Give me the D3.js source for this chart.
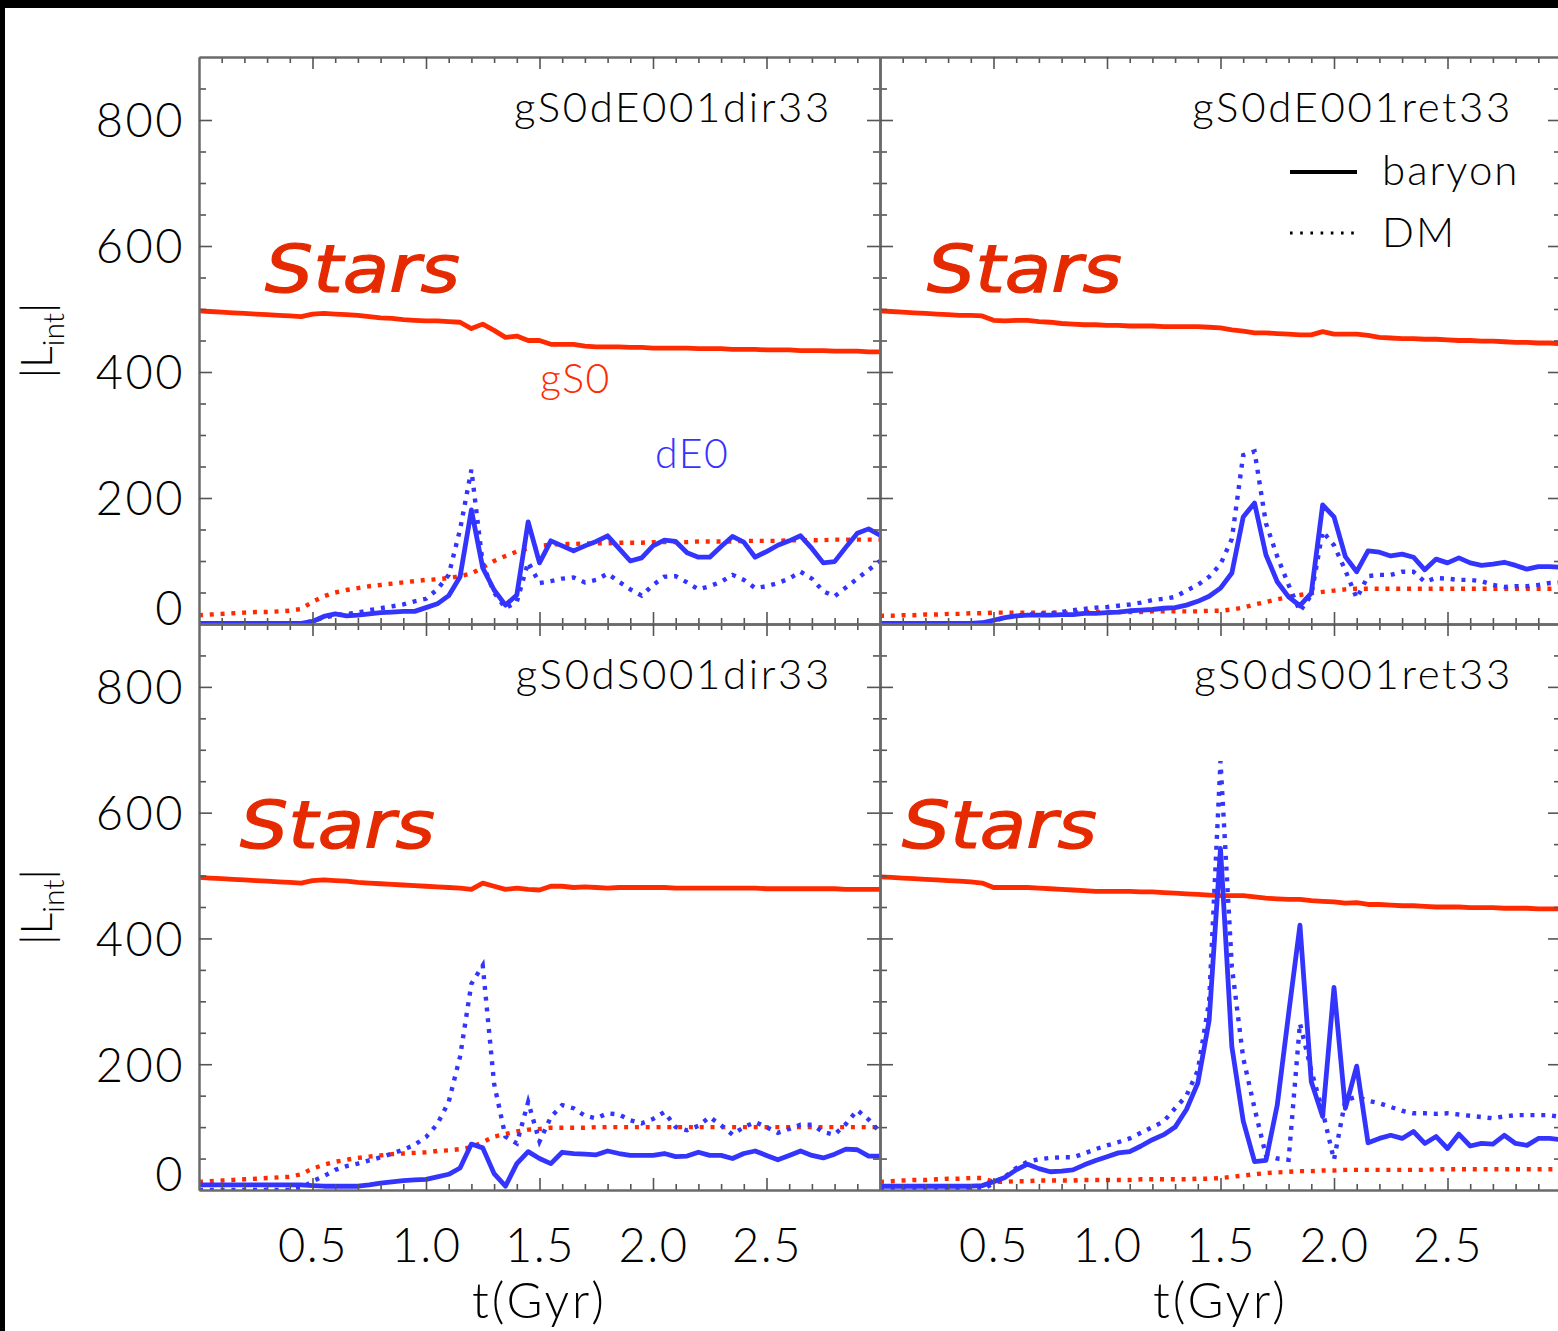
<!DOCTYPE html>
<html lang="en">
<head>
<meta charset="utf-8">
<title>|L_int| of the gS0 and dwarf in four encounters</title>
<script src="https://cdn.jsdelivr.net/npm/d3@7"></script>
<style>
  body { margin: 0; background: #fff; }
  svg { display: block; }
  .txt { font-family: Lato, "DejaVu Sans", sans-serif; font-weight: 300; fill: #000; }
</style>
</head>
<body>
<script>
// time grid (Gyr), one snapshot every 0.05 Gyr
var tGyr = [0.00,0.05,0.10,0.15,0.20,0.25,0.30,0.35,0.40,0.45,
            0.50,0.55,0.60,0.65,0.70,0.75,0.80,0.85,0.90,0.95,
            1.00,1.05,1.10,1.15,1.20,1.25,1.30,1.35,1.40,1.45,
            1.50,1.55,1.60,1.65,1.70,1.75,1.80,1.85,1.90,1.95,
            2.00,2.05,2.10,2.15,2.20,2.25,2.30,2.35,2.40,2.45,
            2.50,2.55,2.60,2.65,2.70,2.75,2.80,2.85,2.90,2.95,3.00];

var runNames = ["gS0dE001dir33", "gS0dE001ret33", "gS0dS001dir33", "gS0dS001ret33"];
var yTickLabels = [0, 200, 400, 600, 800];
var xTickLabels = [0.5, 1.0, 1.5, 2.0, 2.5];

// gS0dE001dir33
var eDir_gS0_bar = [497,496,495,494,493,492,491,490,489,488, 492,493,492,491,490,488,486,485,483,482,
                    481,481,480,479,469,476,466,455,457,450, 450,444,444,444,441,440,440,440,439,439,
                    438,438,438,438,437,437,437,436,436,436, 435,435,435,434,434,434,433,433,433,432, 432];
var eDir_gS0_dm  = [14,15,16,17,18,19,19,20,21,24, 35,44,50,54,57,60,62,64,66,68,
                    70,71,73,76,80,90,100,108,115,120, 124,126,127,127,128,128,128,129,129,129,
                    130,130,130,130,131,131,131,131,132,132, 132,132,133,133,133,133,134,134,134,134, 134];
var eDir_dw_bar  = [1,1,1,1,1,1,1,1,1,1, 4,12,16,13,14,16,18,19,20,20,
                    26,32,45,75,181,89,54,30,46,162, 97,132,124,116,124,131,140,120,100,105,
                    124,133,131,113,106,106,123,139,130,106, 115,125,132,140,120,97,99,122,144,151, 141];
var eDir_dw_dm   = [0,0,0,0,0,0,0,0,0,0, 5,10,14,16,18,22,25,28,31,36,
                    40,55,78,150,245,95,50,25,35,98, 65,68,72,74,66,70,80,67,55,45,
                    62,75,76,66,55,60,67,78,70,57, 60,65,72,83,72,52,44,58,72,86, 100];

// gS0dE001ret33
var eRet_gS0_bar = [497,496,495,494,493,492,491,490,490,489, 482,481,482,482,480,479,477,476,475,475,
                    474,474,473,473,473,472,472,472,472,471, 470,467,465,462,462,461,460,459,459,464,
                    460,460,460,458,455,454,453,453,452,452, 451,450,450,449,449,448,447,447,446,446, 445];
var eRet_gS0_dm  = [13,13,14,14,15,15,16,16,17,17, 18,18,18,18,18,18,18,18,19,19,
                    19,19,19,19,20,20,20,20,20,21, 21,23,26,31,35,39,43,46,49,51,
                    53,55,56,56,56,56,56,56,56,56, 56,56,56,56,56,56,56,56,56,56, 56];
var eRet_dw_bar  = [1,1,1,1,1,1,1,1,1,2, 6,10,13,14,14,14,15,15,17,17,
                    18,19,21,22,23,25,26,30,36,44, 57,81,170,192,110,67,43,29,49,189,
                    170,107,83,116,114,108,111,106,86,103, 97,105,97,93,95,98,93,87,91,91, 90];
var eRet_dw_dm   = [0,0,0,0,0,0,0,0,0,0, 5,10,13,15,16,17,19,22,24,26,
                    27,29,31,34,38,40,43,53,62,75, 95,135,268,274,160,107,62,20,46,147,
                    125,85,41,76,78,78,83,83,67,73, 72,70,70,68,62,59,60,60,62,65, 66];

// gS0dS001dir33
var sDir_gS0_bar = [497,496,495,494,493,492,491,490,489,488, 492,493,492,491,489,488,487,486,485,484,
                    483,482,481,480,478,488,483,478,480,478, 477,483,483,481,482,481,480,481,481,481,
                    481,481,480,480,480,480,480,480,480,480, 479,479,479,479,479,479,479,478,478,478, 478];
var sDir_gS0_dm  = [13,14,15,16,17,18,19,20,21,25, 34,40,45,48,51,53,55,57,58,59,
                    60,62,63,65,68,76,85,89,93,96, 97,99,99,99,99,100,100,100,100,100,
                    100,100,100,100,100,100,100,100,100,100, 100,100,100,100,100,100,100,100,100,100, 100];
var sDir_dw_bar  = [8,8,8,8,8,8,8,8,8,8, 7,6,6,6,6,8,11,13,15,16,
                    17,21,25,35,73,67,26,6,42,61, 50,42,60,58,57,56,62,58,55,55,
                    55,58,53,54,60,55,55,50,58,62, 55,48,55,62,55,51,57,65,64,54, 54];
var sDir_dw_dm   = [0,0,0,0,0,0,0,0,0,3, 14,22,32,38,42,47,52,58,64,72,
                    84,105,140,212,328,357,169,85,74,140, 77,116,135,130,118,114,122,120,111,106,
                    113,124,100,95,102,116,103,88,100,108, 100,91,97,104,104,92,88,105,127,112, 92];

// gS0dS001ret33
var sRet_gS0_bar = [498,497,496,495,494,493,492,491,490,488, 481,481,481,481,480,479,478,477,476,475,
                    475,475,475,474,474,473,472,471,470,469, 468,468,468,466,464,463,462,462,460,459,
                    458,456,457,454,454,453,452,452,451,450, 450,450,449,449,449,448,448,448,447,447, 447];
var sRet_gS0_dm  = [13,14,15,16,16,17,18,18,19,19, 13,13,14,14,15,15,15,15,16,16,
                    16,16,16,17,17,17,17,17,18,18, 19,21,23,25,27,28,29,30,30,31,
                    31,32,32,32,32,32,32,32,32,33, 33,33,33,33,33,33,33,33,33,33, 33];
var sRet_dw_bar  = [6,6,6,6,6,6,6,6,6,7, 13,20,32,41,34,29,30,32,40,47,
                    53,59,61,70,80,88,100,128,170,270, 543,228,110,45,47,135,280,421,172,117,
                    322,130,197,75,82,87,82,93,74,85, 66,89,70,74,73,87,74,71,82,82, 80];
var sRet_dw_dm   = [0,0,0,0,0,0,0,0,0,0, 11,21,35,45,49,51,52,52,58,65,
                    71,76,82,91,100,109,130,150,190,300, 682,355,210,130,55,50,48,265,190,125,
                    48,143,148,142,138,132,126,122,122,121, 122,120,118,116,114,117,119,119,119,119, 116];

var w = 1558, h = 1331;
var red = "#ff2a00", blue = "#3434ff";

// panel frames
var colX = [[199, 880], [880, 1561]];
var rowY = [[624, 57], [1190, 624]];

var panels = [
  { name: runNames[0], col: 0, row: 0, gBar: eDir_gS0_bar, gDm: eDir_gS0_dm, dBar: eDir_dw_bar, dDm: eDir_dw_dm, starsAt: [66, 235], tags: true },
  { name: runNames[1], col: 1, row: 0, gBar: eRet_gS0_bar, gDm: eRet_gS0_dm, dBar: eRet_dw_bar, dDm: eRet_dw_dm, starsAt: [47, 235], legend: true },
  { name: runNames[2], col: 0, row: 1, gBar: sDir_gS0_bar, gDm: sDir_gS0_dm, dBar: sDir_dw_bar, dDm: sDir_dw_dm, starsAt: [41, 224] },
  { name: runNames[3], col: 1, row: 1, gBar: sRet_gS0_bar, gDm: sRet_gS0_dm, dBar: sRet_dw_bar, dDm: sRet_dw_dm, starsAt: [22, 224] }
];

var svg = d3.select("body").append("svg")
            .attr("width", w)
            .attr("height", h);

svg.append("rect").attr("width", w).attr("height", h).attr("fill", "#fff");

var xMajor = [0.5, 1.0, 1.5, 2.0, 2.5];
var xMinor = d3.range(1, 30).map(function(k) { return k / 10; }).filter(function(v) { return Math.round(v * 10) % 5 !== 0; });
var yMajor = [200, 400, 600, 800];
var yMinor = d3.range(50, 900, 50).filter(function(v) { return v % 200 !== 0; });

var defs = svg.append("defs");

panels.forEach(function(p, pi) {
  var x = d3.scaleLinear().domain([0, 3]).range(colX[p.col]);
  var y = d3.scaleLinear().domain([0, 900]).range(rowY[p.row]);
  var x0 = colX[p.col][0], x1 = colX[p.col][1];
  var yb = rowY[p.row][0], yt = rowY[p.row][1];

  defs.append("clipPath").attr("id", "clip" + pi)
      .append("rect").attr("x", x0).attr("y", yt - 2).attr("width", x1 - x0).attr("height", yb - yt + 2);

  var g = svg.append("g");
  var plot = g.append("g").attr("clip-path", "url(#clip" + pi + ")");

  var line = d3.line()
      .x(function(d, i) { return x(tGyr[i]); })
      .y(function(d) { return y(d); });

  // DM first (dotted), then baryons (solid)
  plot.append("path").datum(p.gDm).attr("d", line)
      .attr("fill", "none").attr("stroke", red).attr("stroke-width", 4.4).attr("stroke-dasharray", "4,6.8");
  plot.append("path").datum(p.dDm).attr("d", line)
      .attr("fill", "none").attr("stroke", blue).attr("stroke-width", 4.4).attr("stroke-dasharray", "4,6.8");
  plot.append("path").datum(p.gBar).attr("d", line)
      .attr("fill", "none").attr("stroke", red).attr("stroke-width", 4.8).attr("stroke-linejoin", "round");
  plot.append("path").datum(p.dBar).attr("d", line)
      .attr("fill", "none").attr("stroke", blue).attr("stroke-width", 4.8).attr("stroke-linejoin", "round");

  // inward ticks on all four sides
  function tickAxis(gen, vals, size, tr) {
    var a = g.append("g").attr("transform", tr)
        .call(gen.tickValues(vals).tickSize(size).tickSizeOuter(0).tickFormat(""));
    a.select(".domain").attr("stroke", "#6a6a6a").attr("stroke-width", 2);
    a.selectAll(".tick line").attr("stroke", "#555").attr("stroke-width", 1.6);
    return a;
  }
  tickAxis(d3.axisBottom(x), xMinor, -6, "translate(0," + yb + ")");
  tickAxis(d3.axisBottom(x), xMajor, -12, "translate(0," + yb + ")");
  tickAxis(d3.axisTop(x), xMinor, -6, "translate(0," + yt + ")");
  tickAxis(d3.axisTop(x), xMajor, -12, "translate(0," + yt + ")");
  tickAxis(d3.axisLeft(y), yMinor, -7, "translate(" + x0 + ",0)");
  tickAxis(d3.axisLeft(y), yMajor, -13, "translate(" + x0 + ",0)");
  tickAxis(d3.axisRight(y), yMinor, -7, "translate(" + x1 + ",0)");
  tickAxis(d3.axisRight(y), yMajor, -13, "translate(" + x1 + ",0)");

  // y labels on left column
  if (p.col === 0) {
    var ya = g.append("g").attr("transform", "translate(" + x0 + ",0)")
        .call(d3.axisLeft(y).tickValues(yTickLabels).tickSize(0).tickPadding(14).tickFormat(d3.format("d")));
    ya.select(".domain").remove();
    ya.selectAll("text").attr("class", "txt").attr("font-size", 47).attr("letter-spacing", 2.5).attr("dy", "0.36em")
      .attr("transform", function(d) { return d === 0 ? "translate(0,-16)" : null; });

    var yc = (yb + yt) / 2;
    var yl = g.append("text").attr("class", "txt").attr("font-size", 43)
        .attr("text-anchor", "middle")
        .attr("transform", "translate(52," + yc + ") rotate(-90)");
    yl.append("tspan").text("|L");
    yl.append("tspan").attr("font-size", 30).attr("dy", 12).text("int");
    yl.append("tspan").attr("dy", -12).text("|");
  }

  // x labels on bottom row
  if (p.row === 1) {
    var xa = g.append("g").attr("transform", "translate(0," + yb + ")")
        .call(d3.axisBottom(x).tickValues(xTickLabels).tickSize(0).tickPadding(39).tickFormat(d3.format(".1f")));
    xa.select(".domain").remove();
    xa.selectAll("text").attr("class", "txt").attr("font-size", 47).attr("letter-spacing", 1.5);
    g.append("text").attr("class", "txt").attr("font-size", 49)
        .attr("text-anchor", "middle").attr("letter-spacing", 3)
        .attr("x", (x0 + x1) / 2).attr("y", yb + 128)
        .text("t(Gyr)");
  }

  // run name
  g.append("text").attr("class", "txt").attr("font-size", 42)
      .attr("letter-spacing", 2.6)
      .attr("text-anchor", "end")
      .attr("x", x1 - 48).attr("y", yt + 65)
      .text(p.name);

  // "Stars"
  g.append("text")
      .attr("x", x0 + p.starsAt[0]).attr("y", yt + p.starsAt[1])
      .attr("font-family", "'Comic Sans MS', 'DejaVu Sans', sans-serif")
      .attr("font-style", "italic").attr("font-weight", 400)
      .attr("font-size", 66).attr("fill", "#e62a00")
      .attr("stroke", "#e62a00").attr("stroke-width", 1.2)
      .attr("textLength", 195).attr("lengthAdjust", "spacingAndGlyphs")
      .text("Stars");

  if (p.tags) {
    g.append("text").attr("class", "txt").attr("font-size", 41).attr("letter-spacing", 1.5).style("fill", red)
        .attr("x", x0 + 341).attr("y", yt + 336).text("gS0");
    g.append("text").attr("class", "txt").attr("font-size", 41).attr("letter-spacing", 1.5).style("fill", blue)
        .attr("x", x0 + 456).attr("y", yt + 411).text("dE0");
  }

  if (p.legend) {
    g.append("line").attr("x1", 1290).attr("x2", 1357).attr("y1", 172).attr("y2", 172)
        .attr("stroke", "#000").attr("stroke-width", 4);
    g.append("line").attr("x1", 1290).attr("x2", 1357).attr("y1", 233).attr("y2", 233)
        .attr("stroke", "#000").attr("stroke-width", 3).attr("stroke-dasharray", "2.6,7.6");
    g.append("text").attr("class", "txt").attr("font-size", 42).attr("letter-spacing", 2)
        .attr("x", 1382).attr("y", 185).text("baryon");
    g.append("text").attr("class", "txt").attr("font-size", 42).attr("letter-spacing", 2)
        .attr("x", 1382).attr("y", 247).text("DM");
  }
});

// black frame strips at top and left
svg.append("rect").attr("x", 0).attr("y", 0).attr("width", w).attr("height", 8).attr("fill", "#000");
svg.append("rect").attr("x", 0).attr("y", 0).attr("width", 5).attr("height", h).attr("fill", "#000");
</script>
</body>
</html>
